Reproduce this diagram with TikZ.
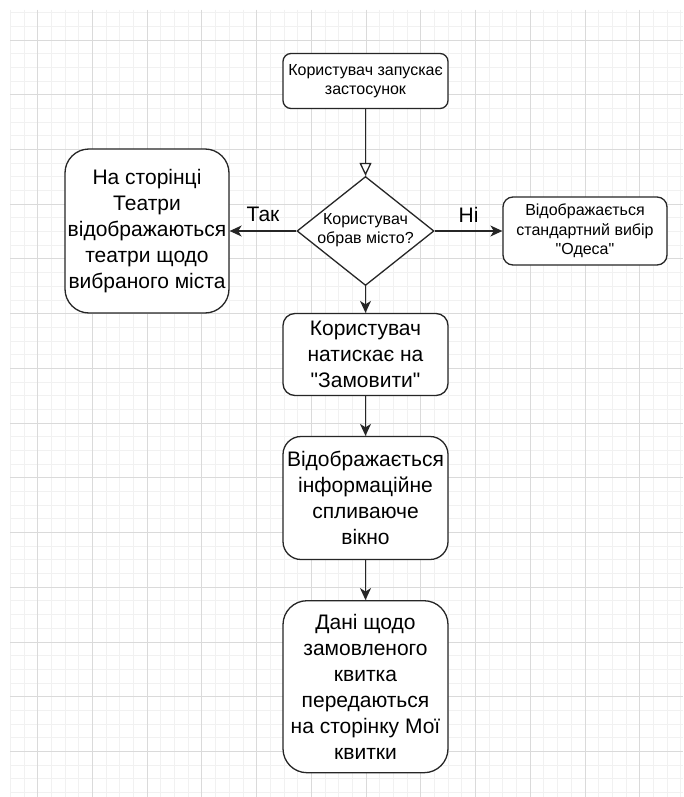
\documentclass[tikz,border=0pt]{standalone}
\usepackage{fontspec}
\setmainfont{Liberation Sans}[Ligatures=TeXOff]
\usetikzlibrary{shapes.geometric,arrows.meta}
\definecolor{gridminor}{HTML}{F1F1F1}
\definecolor{gridmajor}{HTML}{DADADA}
\definecolor{edge}{HTML}{262626}
\tikzset{
  smalltext/.style={font=\fontsize{16}{19.5}\selectfont},
  bigtext/.style={font=\fontsize{21}{26}\selectfont},
  stepbox/.style={draw=edge, line width=1.3pt, fill=white, align=center,
    inner sep=0pt, minimum width=165pt},
  decision/.style={draw=edge, line width=1.3pt, fill=white, diamond,
    inner sep=0pt, minimum width=137pt, minimum height=109pt},
  flow/.style={draw=edge, line width=1.3pt, -{Stealth[length=12pt,width=11pt,inset=3.5pt]}},
}
\begin{document}
\begin{tikzpicture}[x=1pt,y=-1pt]
  \useasboundingbox (0,0) rectangle (683,797);
  % grid background
  \fill[white] (0,0) rectangle (683,797);
  \foreach \k in {-2,...,47}
    \draw[gridminor, line width=0.8pt] ({37.7+13.68*\k},10) -- ({37.7+13.68*\k},797);
  \foreach \k in {-2,...,55}
    \draw[gridminor, line width=0.8pt] (10,{40+13.68*\k}) -- (683,{40+13.68*\k});
  \foreach \k in {0,...,11}
    \draw[gridmajor, line width=0.8pt] ({37.7+54.72*\k},10) -- ({37.7+54.72*\k},797);
  \foreach \k in {0,...,13}
    \draw[gridmajor, line width=0.8pt] (10,{40+54.72*\k}) -- (683,{40+54.72*\k});

  % steps
  \node[stepbox, smalltext, rounded corners=8pt, minimum height=55pt] (start) at (365.5,81)
    {Користувач запускає\\застосунок};
  \node[decision] (choice) at (365.5,231) {};
  \node[smalltext, align=center, inner sep=0pt] (choicetext) at (365.5,230)
    {Користувач\\обрав місто?};
  \node[stepbox, bigtext, rounded corners=24pt, minimum width=164pt, minimum height=164pt] (theatres) at (147,231)
    {На сторінці\\Театри\\відображаються\\театри щодо\\вибраного міста};
  \node[stepbox, smalltext, rounded corners=10pt, minimum width=164pt, minimum height=68pt] (odesa) at (585,231)
    {Відображається\\стандартний вибір\\"Одеса"};
  \node[stepbox, bigtext, rounded corners=12pt, minimum height=82pt] (order) at (365.5,354.5)
    {Користувач\\натискає на\\"Замовити"};
  \node[stepbox, bigtext, rounded corners=18pt, minimum height=123pt] (popup) at (365.5,498)
    {Відображається\\інформаційне\\спливаюче\\вікно};
  \node[stepbox, bigtext, rounded corners=24pt, minimum height=172pt] (tickets) at (365.5,686.7)
    {Дані щодо\\замовленого\\квитка\\передаються\\на сторінку Мої\\квитки};

  % connectors
  \draw[draw=edge, line width=1.3pt, -{Triangle[open,length=13pt,width=12pt,fill=white]}] (start) -- (choice);
  \draw[flow] (choice.west) -- (theatres.east) node[midway, above=5pt, bigtext] {Так};
  \draw[flow] (choice.east) -- (odesa.west) node[midway, above=5pt, bigtext] {Ні};
  \draw[flow] (choice.south) -- (order);
  \draw[flow] (order) -- (popup);
  \draw[flow] (popup) -- (tickets);
\end{tikzpicture}
\end{document}
